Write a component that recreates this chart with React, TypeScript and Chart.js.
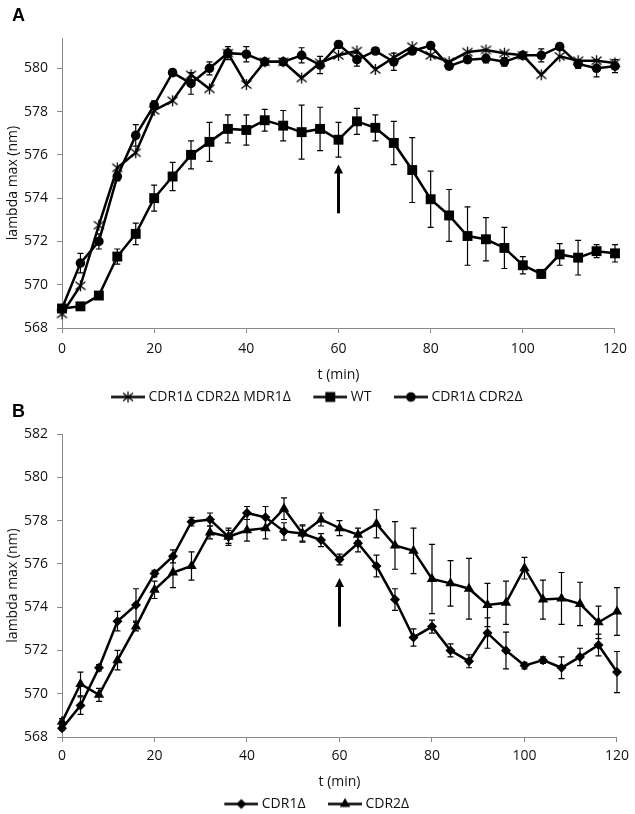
import { useEffect, useRef } from "react";
import { Chart, registerables } from "chart.js";

Chart.register(...registerables);

// sampling times (min)
const TIMES = [0, 4, 8, 12, 16, 20, 24, 28, 32, 36, 40, 44, 48, 52, 56, 60, 64, 68, 72, 76, 80, 84, 88, 92, 96, 100, 104, 108, 112, 116, 120];
const X_TICKS = [0, 20, 40, 60, 80, 100, 120];
const Y_TICKS_A = [568, 570, 572, 574, 576, 578, 580];
const Y_TICKS_B = [568, 570, 572, 574, 576, 578, 580, 582];

// panel A
const TRIPLE_A = [568.65, 569.95, 572.75, 575.4, 576.1, 578.05, 578.5, 579.7, 579.05, 580.7, 579.25, 580.3, 580.3, 579.55, 580.25, 580.6, 580.8, 579.95, 580.5, 581.0, 580.6, 580.3, 580.75, 580.85, 580.7, 580.6, 579.7, 580.55, 580.35, 580.35, 580.25];
const WT_A = [568.9, 569.0, 569.5, 571.3, 572.35, 574.0, 575.0, 576.0, 576.6, 577.2, 577.15, 577.6, 577.35, 577.05, 577.2, 576.7, 577.55, 577.25, 576.55, 575.3, 573.95, 573.2, 572.25, 572.1, 571.7, 570.9, 570.5, 571.4, 571.25, 571.55, 571.45];
const WT_ERR_A = [0.1, 0.1, 0.15, 0.35, 0.5, 0.6, 0.65, 0.65, 0.9, 0.65, 0.7, 0.5, 0.7, 1.25, 1.0, 0.8, 0.6, 0.6, 1.0, 1.5, 1.3, 1.2, 1.35, 1.0, 0.95, 0.4, 0.2, 0.5, 0.8, 0.3, 0.4];
const DOUBLE_A = [568.9, 571.0, 572.0, 575.0, 576.9, 578.3, 579.8, 579.3, 580.0, 580.7, 580.65, 580.3, 580.3, 580.6, 580.15, 581.1, 580.4, 580.8, 580.3, 580.8, 581.05, 580.1, 580.4, 580.45, 580.3, 580.6, 580.6, 581.0, 580.2, 580.0, 580.1];
const DOUBLE_ERR_A = [0.1, 0.45, 0.35, 0.2, 0.5, 0.2, 0.15, 0.5, 0.3, 0.3, 0.35, 0.15, 0.15, 0.35, 0.4, 0.15, 0.3, 0.15, 0.4, 0.15, 0.15, 0.15, 0.15, 0.2, 0.2, 0.15, 0.3, 0.15, 0.2, 0.4, 0.3];

// panel B
const CDR1_B = [568.4, 569.45, 571.2, 573.35, 574.1, 575.55, 576.35, 577.95, 578.05, 577.25, 578.35, 578.15, 577.5, 577.4, 577.1, 576.2, 576.95, 575.9, 574.35, 572.6, 573.1, 572.0, 571.5, 572.8, 572.0, 571.3, 571.55, 571.2, 571.7, 572.25, 571.0];
const CDR1_ERR_B = [0.1, 0.4, 0.15, 0.45, 0.75, 0.15, 0.3, 0.2, 0.3, 0.3, 0.3, 0.5, 0.4, 0.4, 0.3, 0.25, 0.4, 0.5, 0.5, 0.4, 0.3, 0.3, 0.3, 0.7, 0.85, 0.15, 0.15, 0.5, 0.4, 0.5, 0.95];
const CDR2_B = [568.7, 570.45, 569.95, 571.55, 573.1, 574.8, 575.6, 575.9, 577.45, 577.25, 577.55, 577.65, 578.55, 577.4, 578.05, 577.65, 577.35, 577.85, 576.85, 576.6, 575.3, 575.1, 574.85, 574.1, 574.2, 575.8, 574.35, 574.4, 574.15, 573.3, 573.8];
const CDR2_ERR_B = [0.15, 0.55, 0.3, 0.45, 0.2, 0.4, 0.7, 0.65, 0.3, 0.4, 0.5, 0.5, 0.5, 0.35, 0.3, 0.35, 0.3, 0.65, 1.1, 1.05, 1.6, 1.05, 1.4, 1.0, 1.0, 0.5, 0.9, 1.2, 1.0, 0.75, 1.1];

// arrows marking t = 60
const ARROW_A = { t: 60, from: 573.3, to: 575.55 };
const ARROW_B = { t: 60, from: 573.1, to: 575.35 };

const FONT = '"Open Sans", sans-serif';
const FONT_SIZE = 14;
const INK = "#111";
const AXIS = "#8a8a8a";

const LEGEND_LINE = 34;
const LEGEND_GAP = 20;
const LEGEND_BOX = LEGEND_LINE + LEGEND_GAP - 7;

function drawMarker(ctx: CanvasRenderingContext2D, style: string, x: number, y: number, r: number) {
  ctx.beginPath();
  if (style === "circle") {
    ctx.arc(x, y, r, 0, Math.PI * 2);
    ctx.fill();
  } else if (style === "rect") {
    const s = r * Math.SQRT1_2;
    ctx.fillRect(x - s, y - s, 2 * s, 2 * s);
  } else if (style === "rectRot") {
    ctx.moveTo(x, y - r);
    ctx.lineTo(x + r, y);
    ctx.lineTo(x, y + r);
    ctx.lineTo(x - r, y);
    ctx.closePath();
    ctx.fill();
  } else if (style === "triangle") {
    ctx.moveTo(x, y - r);
    ctx.lineTo(x + r * 0.866, y + r * 0.5);
    ctx.lineTo(x - r * 0.866, y + r * 0.5);
    ctx.closePath();
    ctx.fill();
  } else if (style === "asterisk") {
    ctx.lineWidth = 1.3;
    ctx.moveTo(x, y - 5.5);
    ctx.lineTo(x, y + 5.5);
    ctx.moveTo(x - 5, y - 4);
    ctx.lineTo(x + 5, y + 4);
    ctx.moveTo(x - 5, y + 4);
    ctx.lineTo(x + 5, y - 4);
    ctx.stroke();
  }
}

function asteriskImage() {
  const c = document.createElement("canvas");
  c.width = 15;
  c.height = 15;
  const ctx = c.getContext("2d")!;
  ctx.strokeStyle = "#000";
  drawMarker(ctx, "asterisk", 7.5, 7.5, 5);
  return c;
}

function legendImage(style: string, r: number) {
  const c = document.createElement("canvas");
  c.width = LEGEND_BOX + 7;
  c.height = 15;
  const ctx = c.getContext("2d")!;
  ctx.strokeStyle = "#000";
  ctx.fillStyle = "#000";
  ctx.lineWidth = 2.5;
  ctx.beginPath();
  ctx.moveTo(c.width - LEGEND_LINE, 7.5);
  ctx.lineTo(c.width, 7.5);
  ctx.stroke();
  drawMarker(ctx, style, c.width - LEGEND_LINE / 2, 7.5, r);
  return c;
}

function series(label: string, values: number[], errors: number[] | null, style: string, r: number) {
  return {
    label,
    data: TIMES.map((t, i) => ({ x: t, y: values[i] })),
    errors,
    legendImage: legendImage(style, r),
    borderColor: "#000",
    backgroundColor: "#000",
    borderWidth: 2.5,
    pointStyle: style === "asterisk" ? asteriskImage() : style,
    pointRadius: r,
    pointBorderWidth: 0,
    tension: 0,
    fill: false,
    clip: false,
  };
}

const errorBars = {
  id: "errorBars",
  beforeDatasetsDraw(chart: any) {
    const { ctx, scales } = chart;
    ctx.save();
    ctx.strokeStyle = "#000";
    ctx.lineWidth = 1.2;
    chart.data.datasets.forEach((ds: any) => {
      if (!ds.errors) return;
      ds.data.forEach((p: any, i: number) => {
        const e = ds.errors[i];
        if (!e) return;
        const px = scales.x.getPixelForValue(p.x);
        const top = scales.y.getPixelForValue(p.y + e);
        const bot = scales.y.getPixelForValue(p.y - e);
        ctx.beginPath();
        ctx.moveTo(px, top);
        ctx.lineTo(px, bot);
        ctx.moveTo(px - 3, top);
        ctx.lineTo(px + 3, top);
        ctx.moveTo(px - 3, bot);
        ctx.lineTo(px + 3, bot);
        ctx.stroke();
      });
    });
    ctx.restore();
  },
};

const arrowMark = {
  id: "arrowMark",
  afterDatasetsDraw(chart: any, _args: any, opts: any) {
    const { ctx, scales } = chart;
    const x = scales.x.getPixelForValue(opts.t);
    const y0 = scales.y.getPixelForValue(opts.from);
    const y1 = scales.y.getPixelForValue(opts.to);
    ctx.save();
    ctx.strokeStyle = "#000";
    ctx.fillStyle = "#000";
    ctx.lineWidth = 3;
    ctx.beginPath();
    ctx.moveTo(x, y0);
    ctx.lineTo(x, y1 + 7);
    ctx.stroke();
    ctx.beginPath();
    ctx.moveTo(x, y1);
    ctx.lineTo(x + 4.5, y1 + 9);
    ctx.lineTo(x - 4.5, y1 + 9);
    ctx.closePath();
    ctx.fill();
    ctx.restore();
  },
};

function makeConfig(datasets: any[], yMax: number, yTicks: number[], arrow: any, padTop: number, axisH: number, tickPad: number): any {
  const font = { family: FONT, size: FONT_SIZE };
  return {
    type: "line",
    data: { datasets },
    plugins: [errorBars, arrowMark],
    options: {
      responsive: true,
      maintainAspectRatio: false,
      animation: false,
      events: [],
      layout: { padding: { top: padTop, right: 18, left: 0, bottom: 0 } },
      scales: {
        x: {
          type: "linear",
          min: 0,
          max: 120,
          afterBuildTicks: (s: any) => {
            s.ticks = X_TICKS.map((v) => ({ value: v }));
          },
          afterFit: (s: any) => {
            s.height = axisH;
          },
          grid: { display: true, drawOnChartArea: false, color: AXIS, tickLength: 5 },
          border: { color: AXIS, width: 1 },
          ticks: { color: INK, padding: tickPad, font, maxRotation: 0 },
          title: { display: true, text: "t (min)", color: INK, font, padding: { top: 0, bottom: 1 } },
        },
        y: {
          type: "linear",
          min: 568,
          max: yMax,
          afterBuildTicks: (s: any) => {
            s.ticks = yTicks.map((v) => ({ value: v }));
          },
          afterFit: (s: any) => {
            s.width = 62;
          },
          grid: { display: true, drawOnChartArea: false, color: AXIS, tickLength: 5 },
          border: { color: AXIS, width: 1 },
          ticks: { color: INK, padding: 9, font },
          title: { display: true, text: "lambda max (nm)", color: INK, font, padding: { top: 5, bottom: 0 } },
        },
      },
      plugins: {
        arrowMark: arrow,
        tooltip: { enabled: false },
        legend: {
          position: "bottom",
          labels: {
            usePointStyle: true,
            pointStyleWidth: LEGEND_BOX,
            padding: 6,
            color: INK,
            font,
            generateLabels: (chart: any) =>
              Chart.defaults.plugins.legend.labels.generateLabels(chart).map((item: any) => ({
                ...item,
                pointStyle: chart.data.datasets[item.datasetIndex].legendImage,
              })),
          },
        },
      },
    },
  };
}

function Panel({ top, height, build }: { top: number; height: number; build: () => any }) {
  const canvasRef = useRef<HTMLCanvasElement | null>(null);

  useEffect(() => {
    if (!canvasRef.current) return;
    const chart = new Chart(canvasRef.current, build());
    return () => chart.destroy();
  }, [build]);

  return (
    <div style={{ position: "absolute", left: 0, top, width: 635, height }}>
      <canvas ref={canvasRef} />
    </div>
  );
}

const buildA = () =>
  makeConfig(
    [
      series("CDR1Δ CDR2Δ MDR1Δ", TRIPLE_A, null, "asterisk", 5),
      series("WT", WT_A, WT_ERR_A, "rect", 7),
      series("CDR1Δ CDR2Δ", DOUBLE_A, DOUBLE_ERR_A, "circle", 4.8),
    ],
    581.4,
    Y_TICKS_A,
    ARROW_A,
    38,
    56,
    8
  );

const buildB = () =>
  makeConfig(
    [
      series("CDR1Δ", CDR1_B, CDR1_ERR_B, "rectRot", 5),
      series("CDR2Δ", CDR2_B, CDR2_ERR_B, "triangle", 6),
    ],
    582,
    Y_TICKS_B,
    ARROW_B,
    30,
    54,
    6
  );

const letter: React.CSSProperties = {
  position: "absolute",
  left: 12,
  fontFamily: '"Liberation Sans", Arial, sans-serif',
  fontWeight: "bold",
  fontSize: 18,
  lineHeight: "21px",
  color: "#000",
};

export default function App() {
  return (
    <div style={{ position: "fixed", left: 0, top: 0, width: 635, height: 814, overflow: "hidden", background: "#fff" }}>
      <Panel top={0} height={414} build={buildA} />
      <Panel top={404} height={417} build={buildB} />
      <div style={{ ...letter, top: 5 }}>A</div>
      <div style={{ ...letter, top: 401 }}>B</div>
    </div>
  );
}
